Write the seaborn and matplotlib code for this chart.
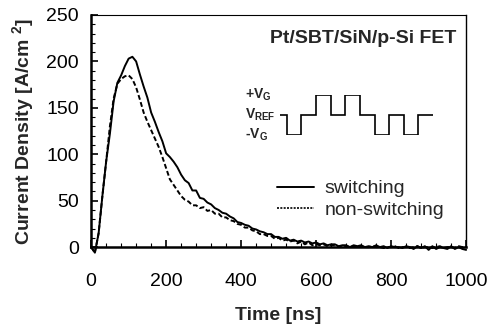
import numpy as np
import pandas as pd
import matplotlib.pyplot as plt
import seaborn as sns

# time axis (ns), every 10 ns
time_ns = list(range(0, 1001, 10))

# current density [A/cm2]
switching = [
    0, -6, 15, 55, 92, 122, 157, 177, 185, 195,
    203, 205, 200, 186, 173, 161, 145, 135, 124, 114,
    101, 97, 92, 86, 78, 72, 69, 61, 61, 53,
    52, 48, 46, 42, 40, 37, 36, 33, 31, 27,
    26, 24, 23, 20, 19, 17, 16, 14, 14, 11,
    11, 9, 10, 7, 8, 6, 7, 5, 6, 4,
    5, 3, 4, 2, 3, 3, 1, 2, 2, 0,
    2, 1, 2, 0, 1, 0, 2, 0, 1, -1,
    1, 0, 0, -1, 1, 0, -2, 1, -1, 1,
    -3, 1, -2, 0, -1, -2, 1, -2, 0, -2,
    -3,
]
non_switching = [
    0, -6, 15, 55, 92, 130, 160, 176, 181, 184,
    185, 181, 172, 159, 145, 135, 126, 117, 108, 97,
    85, 73, 67, 61, 55, 51, 49, 45, 45, 42,
    43, 39, 40, 36, 36, 32, 32, 29, 28, 25,
    24, 21, 21, 18, 17, 14, 14, 12, 12, 9,
    10, 7, 8, 6, 7, 4, 6, 3, 5, 2,
    3, 2, 3, 1, 2, 2, 0, 1, 1, 0,
    1, 0, 1, 0, 0, 1, 0, 0, -1, 0,
    0, 1, -1, 0, 0, -1, 0, 1, -1, 0,
    0, -1, 0, 1, -1, 0, 0, -1, 1, 0,
    0,
]
series_names = ["switching", "non-switching"]

# gate pulse sequence of the inset (+1 = +VG, 0 = VREF, -1 = -VG)
pulse_levels = [0, -1, 0, 1, 0, 1, 0, -1, 0, -1, 0]
pulse_labels = ["+V$_{G}$", "V$_{REF}$", "-V$_{G}$"]

df = pd.DataFrame({
    "t": time_ns * 2,
    "J": switching + non_switching,
    "kind": [series_names[0]] * len(time_ns) + [series_names[1]] * len(time_ns),
})

sns.set_theme(style="ticks")
plt.rcParams["font.family"] = ["Liberation Sans", "DejaVu Sans"]
plt.rcParams["mathtext.fontset"] = "custom"
plt.rcParams["mathtext.rm"] = "Liberation Sans:bold"
plt.rcParams["mathtext.it"] = "Liberation Sans:bold"
plt.rcParams["mathtext.bf"] = "Liberation Sans:bold"

fig = plt.figure(figsize=(4.98, 3.26), dpi=100)
ax = fig.add_axes([0.183, 0.242, 0.753, 0.712])

sns.lineplot(
    data=df, x="t", y="J", style="kind", color="black", linewidth=1.4,
    dashes={"switching": "", "non-switching": (2.5, 1.3)}, ax=ax, legend=False,
)
for line in ax.lines:
    line.set_clip_on(False)

ax.set_xlim(0, 1000)
ax.set_ylim(0, 250)
ax.set_xticks(range(0, 1001, 200))
ax.set_xticks(range(0, 1001, 40), minor=True)
ax.set_yticks(range(0, 251, 50))
ax.set_yticks(range(0, 251, 10), minor=True)
ax.tick_params(axis="both", which="both", direction="in", colors="black",
               labelsize=14)
ax.tick_params(axis="both", which="major", length=5, width=1.2)
ax.tick_params(axis="both", which="minor", length=3, width=0.8)
ax.tick_params(axis="x", pad=19)
ax.tick_params(axis="y", pad=9)

for side in ["left", "bottom"]:
    ax.spines[side].set_linewidth(1.8)
ax.spines["top"].set_linewidth(0.8)
ax.spines["right"].set_linewidth(1.0)
for s in ax.spines.values():
    s.set_color("black")

ax.set_xlabel("Time [ns]", fontsize=14, fontweight="bold", labelpad=12)
ax.set_ylabel("Current Density [A/cm $^{2}$]", fontsize=14, fontweight="bold",
              labelpad=7)

ax.text(0.975, 0.90, "Pt/SBT/SiN/p-Si FET", transform=ax.transAxes,
        ha="right", va="center", fontsize=14, fontweight="bold")

# legend
handles = [
    plt.Line2D([], [], color="black", lw=1.4),
    plt.Line2D([], [], color="black", lw=1.2, ls=(0, (1.2, 0.8))),
]
ax.legend(handles, series_names, loc="upper left", bbox_to_anchor=(0.495, 0.29),
          frameon=False, fontsize=14, handlelength=1.9, handletextpad=0.55,
          labelspacing=0.2, borderpad=0, borderaxespad=0)

# inset: gate pulse waveform
ins = ax.inset_axes([0.504, 0.483, 0.408, 0.172])
edges = [0, 0.45] + [0.45 + i for i in range(1, len(pulse_levels))]
ins.stairs(pulse_levels, edges, color="black", lw=1.2, baseline=None)
ins.set_xlim(edges[0], edges[-1])
ins.set_ylim(-1, 1)
ins.axis("off")

for lab, yy in zip(pulse_labels, [0.655, 0.569, 0.483]):
    ax.text(0.410, yy, lab, transform=ax.transAxes, ha="left", va="center",
            fontsize=10, fontweight="bold")

fig.savefig("out.png", dpi=100)
